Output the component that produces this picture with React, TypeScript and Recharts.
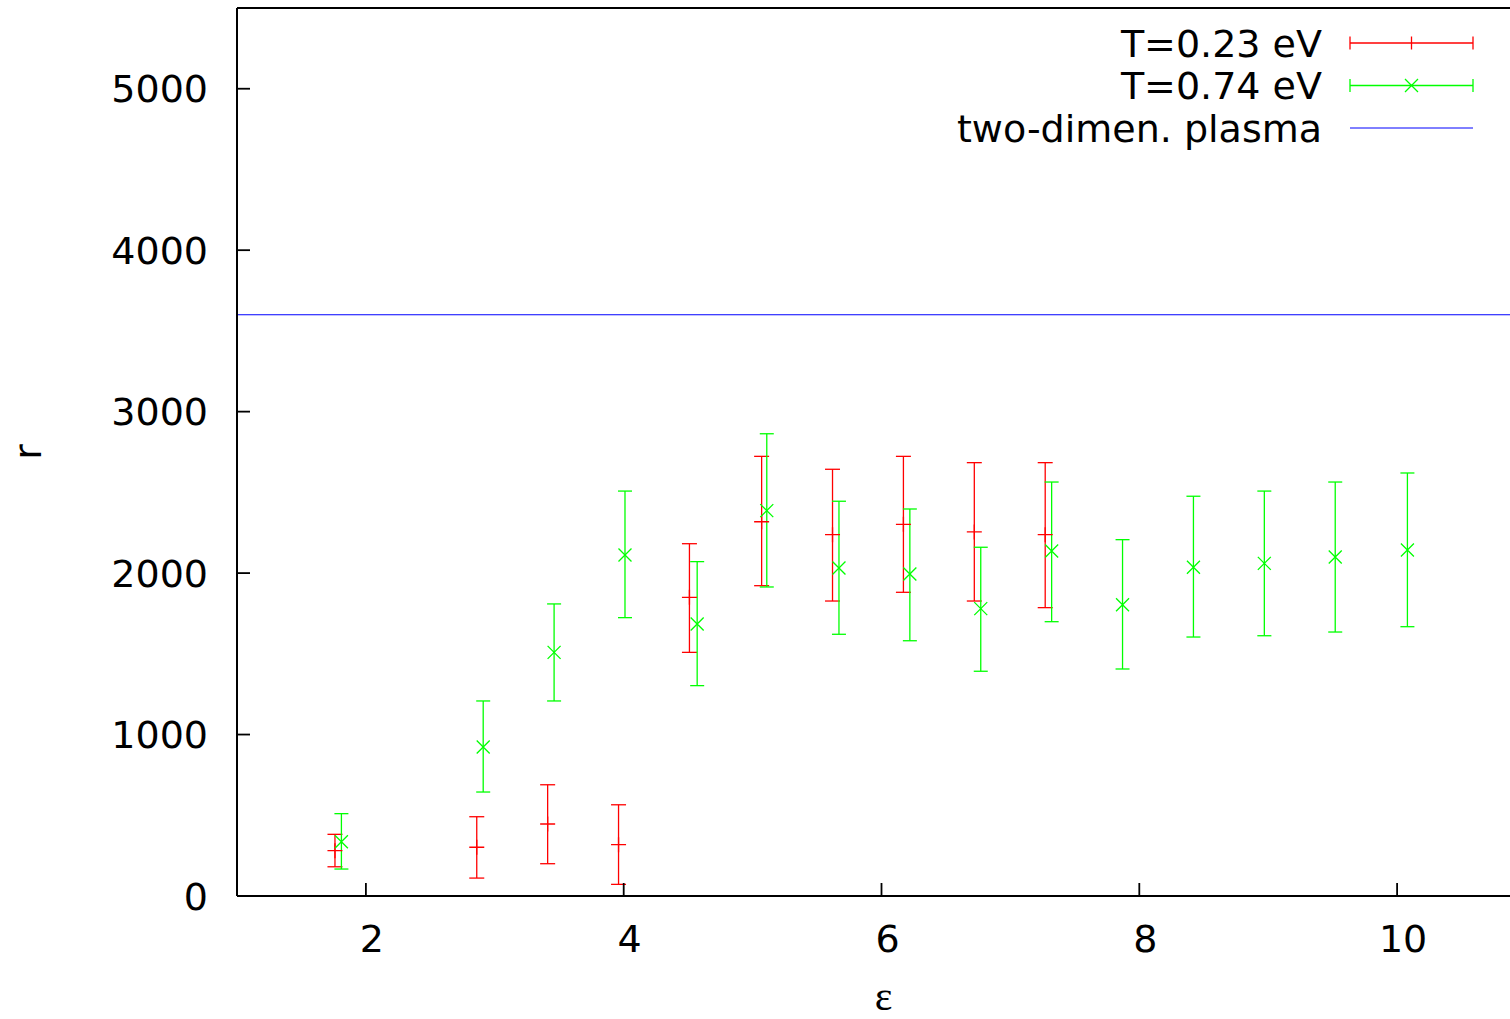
import React from 'react';
import { ScatterChart, Scatter, XAxis, YAxis, ErrorBar, ReferenceLine, Legend } from 'recharts';

// T=0.23 eV
const lowEps = [1.76, 2.86, 3.41, 3.96, 4.51, 5.07, 5.62, 6.17, 6.72, 7.27];
const lowR = [281, 302, 446, 318, 1850, 2318, 2238, 2302, 2255, 2238];
const lowMin = [181, 111, 200, 72, 1509, 1922, 1827, 1881, 1827, 1786];
const lowMax = [382, 491, 689, 565, 2182, 2723, 2643, 2723, 2684, 2684];

// T=0.74 eV
const highEps = [1.81, 2.91, 3.46, 4.01, 4.57, 5.11, 5.67, 6.22, 6.77, 7.32, 7.87, 8.42, 8.97, 9.52, 10.08];
const highR = [336, 923, 1509, 2112, 1685, 2387, 2032, 1994, 1780, 2137, 1804, 2036, 2060, 2100, 2143];
const highMin = [167, 644, 1208, 1724, 1303, 1914, 1621, 1581, 1392, 1699, 1406, 1604, 1612, 1635, 1668];
const highMax = [510, 1208, 1809, 2508, 2071, 2863, 2445, 2397, 2160, 2564, 2207, 2476, 2508, 2564, 2620];

// two-dimensional plasma
const plasmaR = 3600;

const xTicks = [2, 4, 6, 8, 10];
const yTicks = [0, 1000, 2000, 3000, 4000, 5000];
const legendLabels = ['T=0.23 eV', 'T=0.74 eV', 'two-dimen. plasma'];

const RED = '#ff0000';
const GREEN = '#00ff00';
const BLUE = '#0000ff';
const FONT = '"DejaVu Sans", sans-serif';
const FS = 38;
const CHART_W = 1526;
const CHART_H = 1019;
const Y_GAP = 29;
const X_GAP = 56;
const TICK = 13;

const toRows = (eps: number[], r: number[], lo: number[], hi: number[]) =>
  eps.map((e, i) => ({ eps: e, r: r[i], err: [r[i] - lo[i], hi[i] - r[i]] }));

const lowData = toRows(lowEps, lowR, lowMin, lowMax);
const highData = toRows(highEps, highR, highMin, highMax);

const YTick = (props: any) => {
  const { x, y, payload } = props;
  const ax = x + Y_GAP;
  return (
    <g>
      <line x1={ax} y1={y} x2={ax + TICK} y2={y} stroke="#000" strokeWidth={1.8} />
      <text x={x} y={y} dy="0.36em" textAnchor="end" fontSize={FS} fontFamily={FONT} fill="#000">
        {payload.value}
      </text>
    </g>
  );
};

const XTick = (props: any) => {
  const { x, y, payload } = props;
  const ay = y - X_GAP;
  return (
    <g>
      <line x1={x} y1={ay} x2={x} y2={ay - TICK} stroke="#000" strokeWidth={1.8} />
      <text x={x + 6} y={y} textAnchor="middle" fontSize={FS} fontFamily={FONT} fill="#000">
        {payload.value}
      </text>
    </g>
  );
};

const TopTick = (props: any) => {
  const { x, y } = props;
  return <line x1={x} y1={y} x2={x} y2={y + TICK} stroke="#000" strokeWidth={1.8} />;
};

const YLabel = (props: any) => {
  const vb = props.viewBox || { y: 8, height: 888 };
  const cy = vb.y + vb.height / 2;
  return (
    <text x={41} y={cy} transform={`rotate(-90, 41, ${cy})`} textAnchor="middle" fontSize={FS} fontFamily={FONT} fill="#000">
      r
    </text>
  );
};

const PlusMark = (props: any) => {
  const { cx, cy } = props;
  return <path d={`M${cx - 7.5},${cy}H${cx + 7.5}M${cx},${cy - 7.5}V${cy + 7.5}`} stroke={RED} strokeWidth={1.3} fill="none" />;
};

const CrossMark = (props: any) => {
  const { cx, cy } = props;
  const s = 6.5;
  return <path d={`M${cx - s},${cy - s}L${cx + s},${cy + s}M${cx - s},${cy + s}L${cx + s},${cy - s}`} stroke={GREEN} strokeWidth={1.3} fill="none" />;
};

const renderLegend = () => {
  const x0 = 1350;
  const x1 = 1473;
  const xm = (x0 + x1) / 2;
  return (
    <svg width={CHART_W} height={150} style={{ display: 'block' }}>
      {legendLabels.map((label, i) => {
        const y = 43 + i * 42.5;
        const color = [RED, GREEN, BLUE][i];
        return (
          <g key={label}>
            <text x={1322} y={y} dy="0.36em" textAnchor="end" fontSize={FS} fontFamily={FONT} fill="#000">
              {label}
            </text>
            <line x1={x0} y1={y} x2={x1} y2={y} stroke={color} strokeWidth={i === 2 ? 1 : 1.3} />
            {i < 2 && (
              <path d={`M${x0},${y - 6.5}V${y + 6.5}M${x1},${y - 6.5}V${y + 6.5}`} stroke={color} strokeWidth={1.3} />
            )}
            {i === 0 && <path d={`M${xm},${y - 6.5}V${y + 6.5}`} stroke={color} strokeWidth={1.3} />}
            {i === 1 && (
              <path d={`M${xm - 6.5},${y - 6.5}L${xm + 6.5},${y + 6.5}M${xm - 6.5},${y + 6.5}L${xm + 6.5},${y - 6.5}`} stroke={color} strokeWidth={1.3} />
            )}
          </g>
        );
      })}
    </svg>
  );
};

export default function App() {
  return (
    <div style={{ width: 1510, height: CHART_H, overflow: 'hidden', background: '#fff' }}>
      <style>{'body{margin:0;overflow:hidden;}'}</style>
      <ScatterChart width={CHART_W} height={CHART_H} margin={{ top: 0, right: 0, bottom: 0, left: 0 }}>
        <XAxis
          dataKey="eps"
          type="number"
          domain={[1, 11]}
          ticks={xTicks}
          allowDataOverflow
          height={CHART_H - 896}
          tickSize={0}
          tickMargin={X_GAP}
          tickLine={false}
          tick={<XTick />}
          axisLine={{ stroke: '#000', strokeWidth: 2 }}
          label={{ value: 'ε', position: 'insideBottom', offset: 9, fontSize: 42, fontFamily: '"Liberation Serif", serif', fill: '#000', dx: 2 }}
        />
        <XAxis
          xAxisId="top"
          orientation="top"
          type="number"
          domain={[1, 11]}
          ticks={xTicks}
          allowDataOverflow
          height={8}
          tickSize={0}
          tickMargin={0}
          tickLine={false}
          tick={<TopTick />}
          axisLine={{ stroke: '#000', strokeWidth: 2 }}
        />
        <YAxis
          dataKey="r"
          type="number"
          domain={[0, 5500]}
          ticks={yTicks}
          allowDataOverflow
          width={237}
          tickSize={0}
          tickMargin={Y_GAP}
          tickLine={false}
          tick={<YTick />}
          axisLine={{ stroke: '#000', strokeWidth: 2 }}
          label={<YLabel />}
        />
        <ReferenceLine y={plasmaR} stroke={BLUE} strokeWidth={1} />
        <Scatter name={legendLabels[0]} data={lowData} shape={<PlusMark />} isAnimationActive={false}>
          <ErrorBar dataKey="err" direction="y" width={7.5} stroke={RED} strokeWidth={1.3} isAnimationActive={false} />
        </Scatter>
        <Scatter name={legendLabels[1]} data={highData} shape={<CrossMark />} isAnimationActive={false}>
          <ErrorBar dataKey="err" direction="y" width={7} stroke={GREEN} strokeWidth={1.3} isAnimationActive={false} />
        </Scatter>
        <Legend
          content={renderLegend}
          layout="horizontal"
          verticalAlign="middle"
          align="center"
          wrapperStyle={{ position: 'absolute', left: 0, top: 0, width: CHART_W, height: 150 }}
        />
      </ScatterChart>
    </div>
  );
}
